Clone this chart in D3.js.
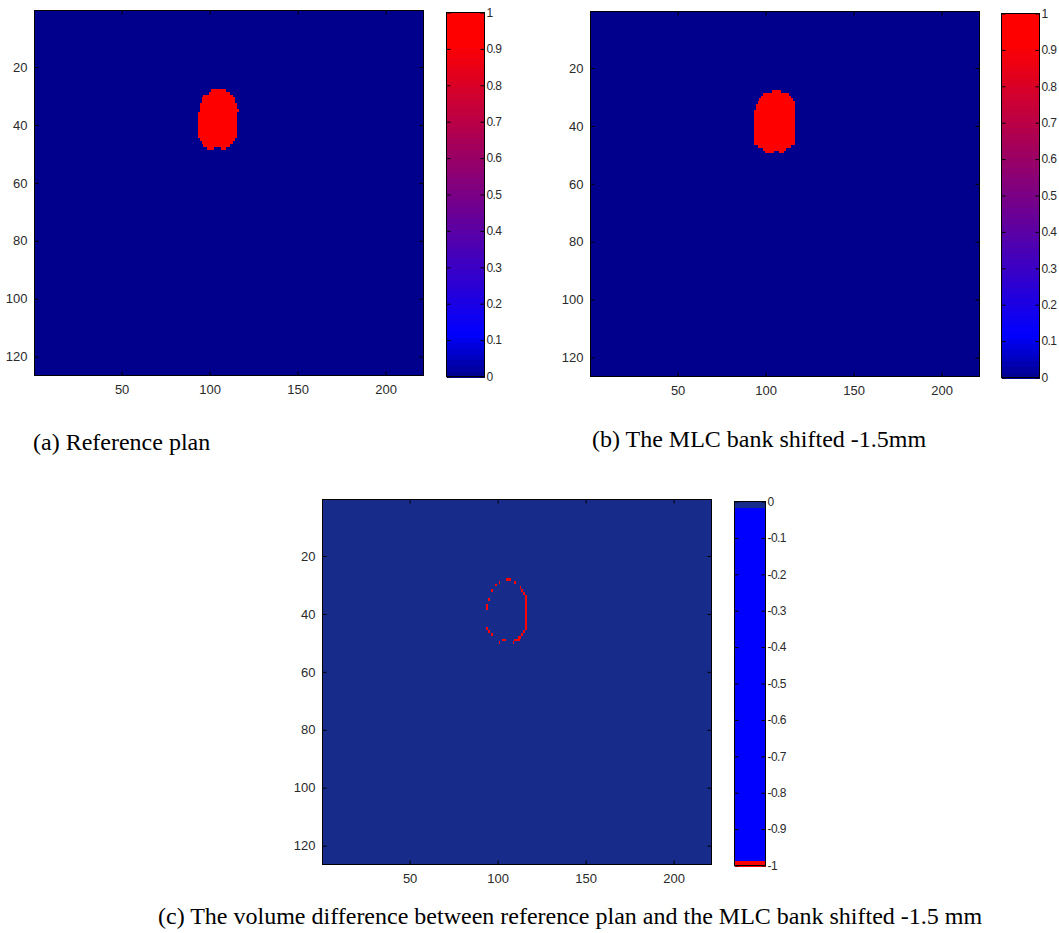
<!DOCTYPE html>
<html>
<head>
<meta charset="utf-8">
<script src="https://cdn.jsdelivr.net/npm/d3@7"></script>
<style>
  body { margin: 0; background: #ffffff; }
  svg text.tick-label { font-family: Arial, "Liberation Sans", Helvetica, sans-serif; font-size: 13px; fill: #2a2a2a; }
  svg text.cb-label { font-family: Arial, "Liberation Sans", Helvetica, sans-serif; font-size: 12px; letter-spacing: -0.6px; fill: #2a2a2a; }
  svg text.caption { font-family: "Times New Roman", "Liberation Serif", serif; font-size: 24px; fill: #000; }
</style>
</head>
<body>
<svg id="fig" width="1059" height="933"></svg>
<script>
// ---- grid size and axis ticks ----
const nCols = 221;
const nRows = 126;
const xTicks = [50, 100, 150, 200];
const yTicks = [20, 40, 60, 80, 100, 120];

// ---- reference plan field: open segments (value 1) as row, first column, last column ----
const refRows  = [28, 29, 30, 31, 32, 33, 34, 35, 36, 37, 38, 39, 40, 41, 42, 43, 44, 45, 46, 47, 48, 48];
const refStart = [101, 100, 97, 96, 96, 95, 95, 95, 94, 94, 94, 94, 94, 94, 94, 94, 94, 95, 96, 97, 99, 107];
const refEnd   = [109, 111, 113, 114, 114, 115, 115, 116, 115, 115, 115, 115, 115, 115, 115, 115, 115, 114, 113, 111, 102, 109];

// ---- MLC bank shifted -1.5 mm: open segments (value 1) ----
const shiftRows  = [28, 29, 30, 31, 32, 33, 34, 35, 36, 37, 38, 39, 40, 41, 42, 43, 44, 45, 46, 47, 48, 49, 49];
const shiftStart = [104, 99, 98, 97, 96, 95, 95, 94, 94, 94, 94, 94, 94, 94, 94, 94, 94, 94, 94, 96, 99, 100, 108];
const shiftEnd   = [108, 113, 114, 115, 116, 116, 116, 116, 116, 116, 116, 116, 116, 116, 116, 116, 116, 116, 116, 114, 111, 104, 110];

// ---- volume difference: cells equal to -1 (all other cells are 0) ----
const diffCols = [105, 106, 107, 101, 110, 99, 113, 97, 114, 115, 116, 116, 95, 116, 116, 116, 116, 116, 116, 116, 116, 116, 116, 94, 94, 94, 95, 97, 115, 114, 112, 113, 110, 111, 112, 103, 104, 101, 109];
const diffRows = [28, 28, 28, 29, 29, 30, 31, 32, 32, 33, 34, 35, 35, 36, 37, 38, 39, 40, 41, 42, 43, 44, 45, 37, 38, 45, 46, 47, 46, 47, 48, 48, 49, 49, 49, 49, 49, 50, 50];

// ---- colour bar ticks ----
const cbTicksPos = [0, 0.1, 0.2, 0.3, 0.4, 0.5, 0.6, 0.7, 0.8, 0.9, 1];
const cbTicksNeg = [0, -0.1, -0.2, -0.3, -0.4, -0.5, -0.6, -0.7, -0.8, -0.9, -1];

// ---- captions ----
const captionA = "(a) Reference plan";
const captionB = "(b) The MLC bank shifted -1.5mm";
const captionC = "(c) The volume difference between reference plan and the MLC bank shifted -1.5 mm";

// ---- colour maps ----
const nLevels = 64;
// 0..1 map: navy -> blue -> red
const cmapPos = d3.scaleLinear()
  .domain([0, 0.12, 0.92, 1])
  .range(["#00008c", "#0000ff", "#ff0000", "#ff0000"])
  .interpolate(d3.interpolateRgb)
  .clamp(true);
// -1..0 map: lowest level red, top level dark blue, pure blue in between
const diffLevelColors = ["#ff0000", "#0000ff", "#172b8a"];
function cmapNeg(v) {
  const k = Math.min(nLevels - 1, Math.floor((v + 1) * nLevels));
  if (k <= 0) return diffLevelColors[0];
  if (k >= nLevels - 1) return diffLevelColors[2];
  return diffLevelColors[1];
}

const svg = d3.select("#fig");

function styleAxis(a, labelClass) {
  a.select(".domain").remove();
  a.selectAll("line").attr("stroke", "#000");
  a.selectAll("text").attr("class", labelClass || "tick-label").attr("font-size", null).attr("font-family", null).attr("fill", null);
}

function imagePanel(box, cells, bgValue, cmap) {
  const g = svg.append("g");
  const x = d3.scaleLinear().domain([0.5, nCols + 0.5]).range([box.x, box.x + box.w]);
  const y = d3.scaleLinear().domain([0.5, nRows + 0.5]).range([box.y, box.y + box.h]);

  // background: every cell at bgValue
  g.append("rect")
    .attr("x", x(0.5)).attr("y", y(0.5))
    .attr("width", x(nCols + 0.5) - x(0.5))
    .attr("height", y(nRows + 0.5) - y(0.5))
    .attr("fill", cmap(bgValue));

  g.append("g").selectAll("rect")
    .data(cells)
    .join("rect")
    .attr("shape-rendering", "crispEdges")
    .attr("x", d => x(d.c0 - 0.5))
    .attr("y", d => y(d.r - 0.5))
    .attr("width", d => x(d.c1 + 0.5) - x(d.c0 - 0.5))
    .attr("height", d => y(d.r + 0.5) - y(d.r - 0.5))
    .attr("fill", d => cmap(d.v));

  // axes with inward ticks on all four sides
  styleAxis(g.append("g").attr("transform", `translate(${box.x},0)`)
    .call(d3.axisLeft(y).tickValues(yTicks).tickSizeInner(-4).tickSizeOuter(0).tickPadding(7)));
  styleAxis(g.append("g").attr("transform", `translate(0,${box.y + box.h})`)
    .call(d3.axisBottom(x).tickValues(xTicks).tickSizeInner(-4).tickSizeOuter(0).tickPadding(9)));
  styleAxis(g.append("g").attr("transform", `translate(${box.x + box.w},0)`)
    .call(d3.axisRight(y).tickValues(yTicks).tickSizeInner(-4).tickSizeOuter(0).tickFormat("")));
  styleAxis(g.append("g").attr("transform", `translate(0,${box.y})`)
    .call(d3.axisTop(x).tickValues(xTicks).tickSizeInner(-4).tickSizeOuter(0).tickFormat("")));

  g.append("rect")
    .attr("x", box.x).attr("y", box.y).attr("width", box.w).attr("height", box.h)
    .attr("fill", "none").attr("stroke", "#000").attr("stroke-width", 1);
}

function colorBar(box, lo, hi, cmap, ticks) {
  const g = svg.append("g");
  const y = d3.scaleLinear().domain([lo, hi]).range([box.y + box.h, box.y]);
  const levels = d3.range(nLevels).map(k => ({
    v0: lo + (hi - lo) * k / nLevels,
    v1: lo + (hi - lo) * (k + 1) / nLevels,
    vm: lo + (hi - lo) * (k + 0.5) / nLevels
  }));
  g.append("g").selectAll("rect")
    .data(levels)
    .join("rect")
    .attr("shape-rendering", "crispEdges")
    .attr("x", box.x)
    .attr("width", box.w)
    .attr("y", d => y(d.v1))
    .attr("height", d => y(d.v0) - y(d.v1) + 1)
    .attr("fill", d => cmap(d.vm));

  styleAxis(g.append("g").attr("transform", `translate(${box.x + box.w},0)`)
    .call(d3.axisRight(y).tickValues(ticks).tickSizeInner(-4).tickSizeOuter(0).tickPadding(2).tickFormat(d => String(d))), "cb-label");
  styleAxis(g.append("g").attr("transform", `translate(${box.x},0)`)
    .call(d3.axisLeft(y).tickValues(ticks).tickSizeInner(-4).tickSizeOuter(0).tickFormat("")));

  g.append("rect")
    .attr("x", box.x).attr("y", box.y).attr("width", box.w).attr("height", box.h)
    .attr("fill", "none").attr("stroke", "#000").attr("stroke-width", 1);
}

const segCells = (rows, s, e) => rows.map((r, i) => ({ r, c0: s[i], c1: e[i], v: 1 }));
const refCells = segCells(refRows, refStart, refEnd);
const shiftCells = segCells(shiftRows, shiftStart, shiftEnd);
const diffCells = diffRows.map((r, i) => ({ r, c0: diffCols[i], c1: diffCols[i], v: -1 }));

// (a)
imagePanel({ x: 34.5, y: 10.5, w: 389, h: 365 }, refCells, 0, cmapPos);
colorBar({ x: 446.5, y: 12.5, w: 38, h: 364 }, 0, 1, cmapPos, cbTicksPos);
// (b)
imagePanel({ x: 590.5, y: 11.5, w: 389, h: 365 }, shiftCells, 0, cmapPos);
colorBar({ x: 1001.5, y: 13.5, w: 38, h: 364 }, 0, 1, cmapPos, cbTicksPos);
// (c)
imagePanel({ x: 322.5, y: 499.5, w: 389, h: 365 }, diffCells, 0, cmapNeg);
colorBar({ x: 734.5, y: 501.5, w: 31, h: 364 }, -1, 0, cmapNeg, cbTicksNeg);

svg.append("text").attr("class", "caption").attr("x", 33).attr("y", 450).text(captionA);
svg.append("text").attr("class", "caption").attr("x", 592).attr("y", 447).text(captionB);
svg.append("text").attr("class", "caption").attr("x", 158).attr("y", 924).text(captionC);
</script>
</body>
</html>
